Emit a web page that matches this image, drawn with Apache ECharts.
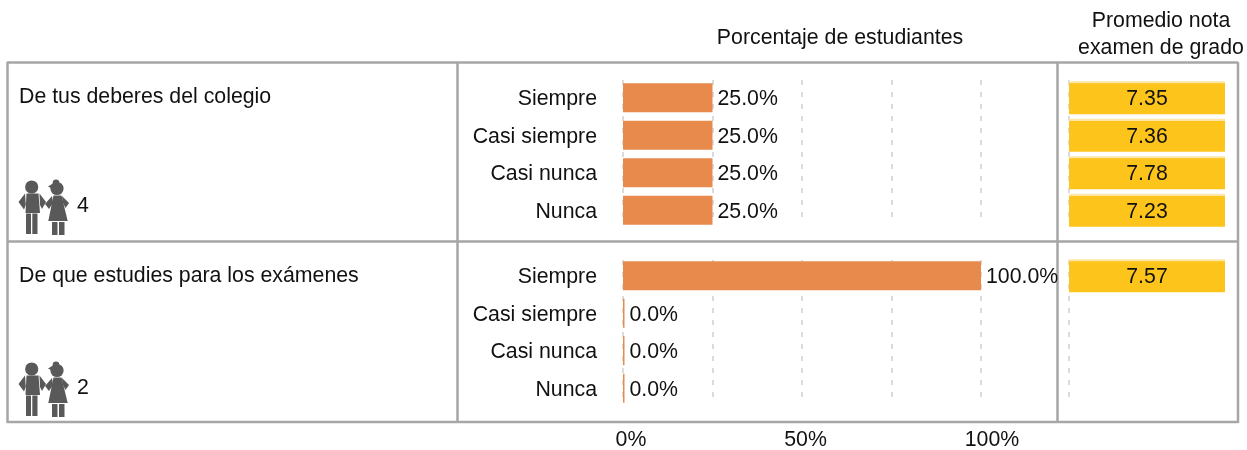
<!DOCTYPE html>
<html>
<head>
<meta charset="utf-8">
<style>html,body{margin:0;padding:0;background:#fff}#chart{width:1247px;height:450px}</style>
<script src="https://cdn.jsdelivr.net/npm/echarts@6/dist/echarts.min.js"></script>
</head>
<body>
<div id="chart"></div>
<script>
const categories = ['Siempre', 'Casi siempre', 'Casi nunca', 'Nunca']
const rowLabels = ['De tus deberes del colegio', 'De que estudies para los exámenes']
const rowCounts = ['4', '2']
const pctRow1 = [25, 25, 25, 25]
const pctRow2 = [100, 0, 0, 0]
const notaRow1 = [7.35, 7.36, 7.78, 7.23]
const notaRow2 = [7.57, null, null, null]
const pctTicks = [0, 50, 100]

const FONT = 'Liberation Sans, Arial, sans-serif'
const SIZE = 21.3
const TEXT = '#111'
const FRAME = '#a6a6a6'
const DASH = '#cfcfcf'
const ICON = '#595959'

const rowTops = [79, 257]
const gridTops = [80, 260]

const grids = [
  { left: 623, width: 358, top: rowTops[0], height: 150 },
  { left: 623, width: 358, top: rowTops[1], height: 150 },
  { left: 1069, width: 156, top: rowTops[0], height: 150 },
  { left: 1069, width: 156, top: rowTops[1], height: 150 },
  // filas de guias punteadas (mas cortas que la fila de barras)
  { left: 623, width: 358, top: gridTops[0], height: 138 },
  { left: 623, width: 358, top: gridTops[1], height: 138 },
  { left: 1069, width: 156, top: gridTops[0], height: 138 },
  { left: 1069, width: 156, top: gridTops[1], height: 138 },
  // eje de etiquetas de abajo
  { left: 631, width: 361, top: 423, height: 1 }
]

const hiddenX = (i, max) => ({ type: 'value', gridIndex: i, min: 0, max: max, show: false })
const guideX = (i, max, interval, maxLine) => ({
  type: 'value', gridIndex: i, min: 0, max: max, interval: interval,
  axisLine: { show: false }, axisTick: { show: false }, axisLabel: { show: false },
  splitLine: { show: true, showMaxLine: maxLine, lineStyle: { color: DASH, width: 1.5, type: [5, 7] } }
})
const hiddenY = (i) => ({ type: 'category', gridIndex: i, data: categories, inverse: true, show: false })

const xAxis = [
  hiddenX(0, 100), hiddenX(1, 100),
  // max 7: las notas llenan toda la celda, el valor va en la etiqueta
  hiddenX(2, 7), hiddenX(3, 7),
  guideX(4, 100, 25, true), guideX(5, 100, 25, true),
  guideX(6, 7, 7, false), guideX(7, 7, 7, false),
  {
    type: 'value', gridIndex: 8, min: 0, max: 100, interval: 50,
    axisLine: { show: false }, axisTick: { show: false }, splitLine: { show: false },
    axisLabel: {
      margin: 6, fontFamily: FONT, fontSize: SIZE, color: TEXT, hideOverlap: false,
      // el 50% va un poco corrido a la izquierda en el original
      formatter: (v) => v === 50 ? '{mid|' + v + '%}' : (pctTicks.includes(v) ? v + '%' : ''),
      rich: { mid: { fontFamily: FONT, fontSize: SIZE, color: TEXT, padding: [0, 12, 0, 0] } }
    }
  }
]

const catY = (i) => ({
  type: 'category', gridIndex: i, data: categories, inverse: true,
  axisLine: { show: false }, axisTick: { show: false }, splitLine: { show: false },
  axisLabel: {
    margin: 26, fontFamily: FONT, fontSize: SIZE, color: TEXT, interval: 0,
    formatter: (v) => '{c|' + v + '}',
    rich: { c: { fontFamily: FONT, fontSize: SIZE, color: TEXT, padding: [3, 0, 0, 0] } }
  }
})
const yAxis = [
  catY(0), catY(1), hiddenY(2), hiddenY(3),
  hiddenY(4), hiddenY(5), hiddenY(6), hiddenY(7),
  { type: 'value', gridIndex: 8, show: false }
]

const pctSeries = (data, i) => ({
  type: 'bar', data: data, xAxisIndex: i, yAxisIndex: i,
  barWidth: 29, barMinHeight: 1.5, silent: true, z: 3,
  itemStyle: { color: '#e88a4c' },
  label: {
    show: true, position: 'right', distance: 5, offset: [0, 1.5],
    fontFamily: FONT, fontSize: SIZE, color: TEXT,
    formatter: (p) => p.value.toFixed(1) + '%'
  }
})
const notaSeries = (data, i) => ({
  type: 'bar', data: data, xAxisIndex: i, yAxisIndex: i,
  barWidth: 33, silent: true, z: 3,
  itemStyle: {
    color: {
      type: 'linear', x: 0, y: 0, x2: 0, y2: 1,
      colorStops: [
        { offset: 0, color: '#fde6a6' }, { offset: 0.06, color: '#fde6a6' },
        { offset: 0.07, color: '#fdc51c' }, { offset: 1, color: '#fdc51c' }
      ]
    }
  },
  label: {
    show: true, position: 'inside', offset: [0, 1.5],
    fontFamily: FONT, fontSize: SIZE, color: TEXT,
    formatter: (p) => p.value.toFixed(2)
  }
})

const text = (x, y, str, align) => ({
  type: 'text', x: x, y: y, silent: true,
  style: { text: str, fill: TEXT, font: SIZE + 'px ' + FONT, align: align || 'left', verticalAlign: 'middle', lineHeight: 27 }
})
const frameLine = (x1, y1, x2, y2) => ({
  type: 'line', silent: true,
  shape: { x1: x1, y1: y1, x2: x2, y2: y2 },
  style: { stroke: FRAME, lineWidth: 2.5 }
})
const poly = (points) => ({ type: 'polygon', silent: true, shape: { points: points }, style: { fill: ICON } })
const dot = (cx, cy, r) => ({ type: 'circle', silent: true, shape: { cx: cx, cy: cy, r: r }, style: { fill: ICON } })

// niño y niña, dibujados a mano
const icon = (y) => ({
  type: 'group', x: 15, y: y, silent: true,
  children: [
    dot(16.7, 10, 6.6),
    poly([[11.5, 16.5], [23.5, 16.5], [25, 36], [10.5, 36]]),
    poly([[10, 16.5], [3.5, 25], [9, 32.5], [10.8, 28]]),
    poly([[24.5, 16.5], [31, 25], [27, 32], [25, 28]]),
    poly([[11, 36.5], [16, 36.5], [16, 57], [11, 57]]),
    poly([[17.3, 36.5], [22.5, 36.5], [22.5, 57], [17.3, 57]]),
    dot(42, 11.5, 6.6),
    dot(41, 5.7, 3.3),
    poly([[33, 9.5], [38, 6.5], [38, 12]]),
    poly([[38.5, 18.5], [46.5, 18.5], [52.7, 44], [33.3, 44]]),
    poly([[37, 19], [30, 27], [34, 32], [38, 26]]),
    poly([[47, 19], [54, 26], [50.5, 31], [47.5, 25]]),
    poly([[37, 45], [42.5, 45], [42.5, 58], [37, 58]]),
    poly([[44, 45], [49.5, 45], [49.5, 58], [44, 58]])
  ]
})

const graphic = [
  frameLine(7, 62.5, 1238, 62.5), frameLine(7, 241.5, 1238, 241.5), frameLine(7, 422, 1238, 422),
  frameLine(7.5, 62, 7.5, 423), frameLine(457.5, 62, 457.5, 423),
  frameLine(1057.5, 62, 1057.5, 423), frameLine(1238, 62, 1238, 423),
  text(840, 38, 'Porcentaje de estudiantes', 'center'),
  text(1161, 34.5, 'Promedio nota\nexamen de grado', 'center'),
  text(19, 97, rowLabels[0]), text(19, 276, rowLabels[1]),
  icon(177), icon(359),
  text(77, 206, rowCounts[0]), text(77, 388, rowCounts[1])
]

const chart = echarts.init(document.getElementById('chart'), null, { renderer: 'canvas' })
chart.setOption({
  animation: false,
  backgroundColor: '#fff',
  tooltip: { show: false },
  grid: grids,
  xAxis: xAxis,
  yAxis: yAxis,
  graphic: { elements: graphic },
  series: [
    pctSeries(pctRow1, 0), pctSeries(pctRow2, 1),
    notaSeries(notaRow1, 2), notaSeries(notaRow2, 3),
    { type: 'bar', data: [], xAxisIndex: 8, yAxisIndex: 8 }
  ]
})
</script>
</body>
</html>
